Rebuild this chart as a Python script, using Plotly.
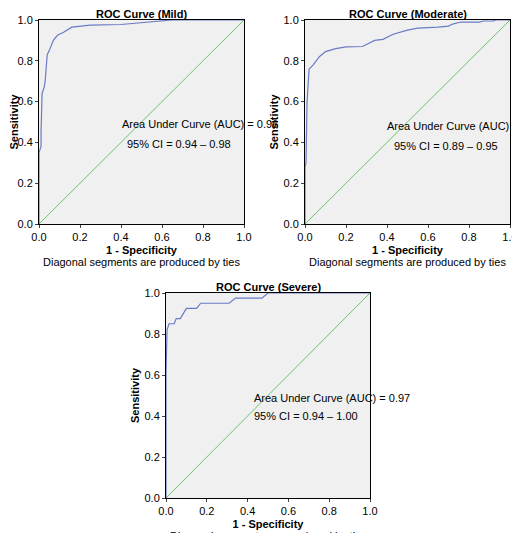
import plotly.graph_objects as go

titles = ["ROC Curve (Mild)", "ROC Curve (Moderate)", "ROC Curve (Severe)"]
auc_text = ["Area Under Curve (AUC) = 0.96", "Area Under Curve (AUC) = 0.92", "Area Under Curve (AUC) = 0.97"]
ci_text = ["95% CI = 0.94 \u2013 0.98", "95% CI = 0.89 \u2013 0.95", "95% CI = 0.94 \u2013 1.00"]

mild_x = [0, 0, 0.01, 0.01, 0.015, 0.025, 0.03, 0.035, 0.04, 0.05, 0.07, 0.09, 0.12, 0.16, 0.25, 0.4, 0.55, 0.65, 1]
mild_y = [0, 0.35, 0.38, 0.45, 0.64, 0.67, 0.70, 0.80, 0.83, 0.85, 0.90, 0.925, 0.94, 0.965, 0.975, 0.978, 0.99, 1.0, 1]
mod_x = [0, 0, 0.005, 0.01, 0.02, 0.04, 0.07, 0.1, 0.15, 0.2, 0.28, 0.3, 0.34, 0.38, 0.43, 0.5, 0.55, 0.65, 0.7, 0.72, 0.76, 0.85, 0.87, 0.92, 0.93, 1]
mod_y = [0, 0.28, 0.30, 0.6, 0.76, 0.78, 0.82, 0.845, 0.86, 0.868, 0.87, 0.88, 0.90, 0.905, 0.93, 0.95, 0.96, 0.965, 0.97, 0.98, 0.99, 0.99, 0.995, 0.995, 1.0, 1]
sev_x = [0, 0, 0.005, 0.015, 0.04, 0.05, 0.07, 0.09, 0.1, 0.15, 0.17, 0.31, 0.34, 0.47, 0.5, 1]
sev_y = [0, 0.6, 0.82, 0.85, 0.85, 0.875, 0.875, 0.91, 0.925, 0.925, 0.95, 0.95, 0.975, 0.975, 1.0, 1]
curves = [(mild_x, mild_y), (mod_x, mod_y), (sev_x, sev_y)]
text_pos = [(0.395, 0.49, 0.42, 0.39), (0.39, 0.48, 0.425, 0.38), (0.42, 0.49, 0.42, 0.40)]
ticks = [0, 0.2, 0.4, 0.6, 0.8, 1.0]
tick_labels = ["0.0", "0.2", "0.4", "0.6", "0.8", "1.0"]

W, H = 520, 533
px_boxes = [(31, 236, 12, 216), (297, 502, 12, 216), (158, 362, 285, 490)]

FONT = "Liberation Sans, Arial, sans-serif"
fig = go.Figure()
for i, (x0, x1, y0, y1) in enumerate(px_boxes):
    sfx = "" if i == 0 else str(i + 1)
    xa, ya = "x" + sfx, "y" + sfx
    fig.add_trace(go.Scatter(x=[0, 1], y=[0, 1], mode="lines", line=dict(color="#6cc46c", width=1),
                             xaxis=xa, yaxis=ya, showlegend=False, hoverinfo="skip"))
    cx, cy = curves[i]
    fig.add_trace(go.Scatter(x=cx, y=cy, mode="lines", line=dict(color="#6a7bc4", width=1.2),
                             xaxis=xa, yaxis=ya, showlegend=False))
    ax = dict(range=[0, 1], tickvals=ticks, ticktext=tick_labels, ticks="outside", ticklen=3,
              showgrid=False, zeroline=False, showline=True, linecolor="black", linewidth=1,
              mirror=True, automargin=False, tickfont=dict(size=11, color="black", family=FONT))
    fig.layout["xaxis" + sfx] = dict(ax, domain=[x0 / W, x1 / W], anchor=ya,
                                     title=dict(text="<b>1 - Specificity</b>", standoff=4,
                                                font=dict(size=11, color="black", family=FONT)))
    fig.layout["yaxis" + sfx] = dict(ax, domain=[1 - y1 / H, 1 - y0 / H], anchor=xa,
                                     title=dict(text="<b>Sensitivity</b>", standoff=2,
                                                font=dict(size=11, color="black", family=FONT)))
    ax_, ay_, cx_, cy_ = text_pos[i]
    fig.add_annotation(x=ax_, y=ay_, xref=xa, yref=ya, text=auc_text[i], showarrow=False,
                       xanchor="left", font=dict(size=11, color="black", family=FONT))
    fig.add_annotation(x=cx_, y=cy_, xref=xa, yref=ya, text=ci_text[i], showarrow=False,
                       xanchor="left", font=dict(size=11, color="black", family=FONT))
    fig.add_annotation(x=0.5, y=1, xref=xa + " domain", yref=ya + " domain", yanchor="bottom",
                       text="<b>" + titles[i] + "</b>", showarrow=False, yshift=-2,
                       font=dict(size=11, color="black", family=FONT))
    fig.add_annotation(x=0.5, y=0, xref=xa + " domain", yref=ya + " domain", yanchor="top",
                       text="Diagonal segments are produced by ties", showarrow=False, yshift=-30,
                       font=dict(size=11, color="black", family=FONT))

fig.update_layout(width=W, height=H, margin=dict(l=0, r=0, t=0, b=0, autoexpand=False),
                  paper_bgcolor="white", plot_bgcolor="#f0f0f0", font=dict(family=FONT))
fig.write_html("out.html")
